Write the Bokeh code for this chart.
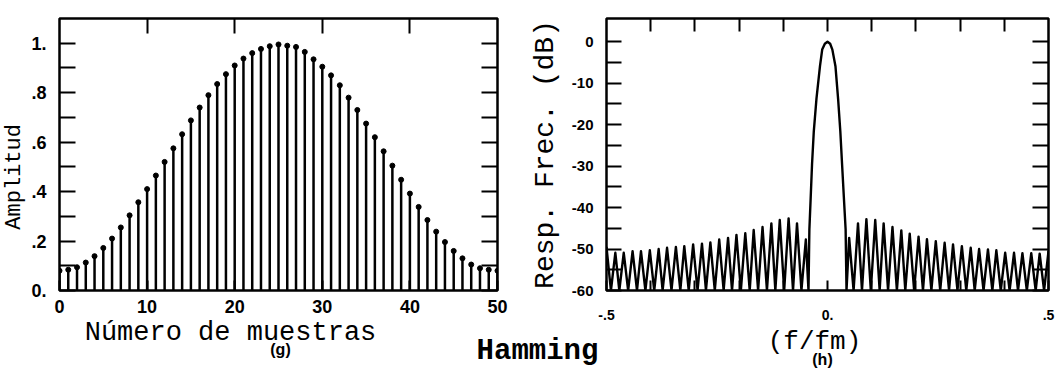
from bokeh.plotting import figure
from bokeh.models import Range1d, LinearAxis, FixedTicker, Label
from bokeh.layouts import row, column
from bokeh.embed import file_html
from bokeh.resources import INLINE

# ---------------- data: left panel (g) Hamming window, 51 samples ----------------
sample_n = list(range(51))
window_w = [
    0.080, 0.084, 0.094, 0.113, 0.139, 0.172, 0.210, 0.255, 0.304, 0.357,
    0.410, 0.465, 0.520, 0.575, 0.632, 0.688, 0.740, 0.790, 0.835, 0.875,
    0.910, 0.938, 0.960, 0.977, 0.988, 0.995, 0.990, 0.985, 0.965, 0.935,
    0.905, 0.870, 0.830, 0.780, 0.730, 0.675, 0.620, 0.563, 0.505, 0.448,
    0.392, 0.338, 0.285, 0.238, 0.196, 0.160, 0.130, 0.105, 0.090, 0.084, 0.080,
]

# ---------------- data: right panel (h) frequency response (dB) ----------------
FLOOR_DB = -60
main_f = [-0.043, -0.041, -0.038, -0.035, -0.031, -0.025, -0.017, -0.012, -0.006, 0.0,
          0.006, 0.011, 0.018, 0.024, 0.029, 0.033, 0.037, 0.041, 0.043]
main_db = [-60, -45.3, -37.5, -29.6, -21.6, -13.8, -5.9, -1.9, -0.5, 0.0,
           -0.5, -1.9, -5.9, -13.8, -21.6, -29.6, -37.5, -45.3, -60]
# side-lobe peak / null frequencies (|f|), from the main lobe outwards
lobe_peak_f = [0.049, 0.069, 0.088, 0.108, 0.127, 0.147, 0.167, 0.186, 0.206, 0.225,
               0.245, 0.265, 0.284, 0.304, 0.324, 0.343, 0.363, 0.382, 0.402, 0.422,
               0.441, 0.461, 0.480]
lobe_null_f = [0.059, 0.078, 0.098, 0.118, 0.137, 0.157, 0.176, 0.196, 0.216, 0.235,
               0.255, 0.275, 0.294, 0.314, 0.333, 0.353, 0.373, 0.392, 0.412, 0.431,
               0.451, 0.471, 0.490]
left_peak_db = [-47.7, -43.8, -42.6, -43.0, -43.8, -44.7, -45.4, -46.2, -46.6, -47.3,
                -47.7, -48.4, -48.7, -48.9, -49.3, -49.5, -49.7, -50.0, -50.3, -50.5,
                -50.5, -50.9, -50.9]
right_peak_db = [-47.3, -43.8, -42.8, -43.0, -43.8, -44.7, -45.5, -46.3, -47.0, -47.6,
                 -48.1, -48.5, -48.9, -49.3, -49.7, -50.0, -50.1, -50.3, -50.9, -50.9,
                 -51.0, -51.0, -51.1]
edge_f = [-0.5, 0.5]
edge_db = [-49.5, -50.5]

# ---------------- ticks / labels ----------------
amp_major = [0, 0.2, 0.4, 0.6, 0.8, 1.0]
amp_minor = [0.1, 0.3, 0.5, 0.7, 0.9]
amp_labels = ["0.", ".2", ".4", ".6", ".8", "1."]
n_ticks = [0, 10, 20, 30, 40, 50]
n_top_ticks = [10, 20, 30, 40]
db_major = [0, -10, -20, -30, -40, -50, -60]
db_minor = [-5, -15, -25, -35, -45, -55]
db_labels = ["0", "-10", "-20", "-30", "-40", "-50", "-60"]
f_major = [-0.5, 0.0, 0.5]
f_minor = [-0.4, -0.3, -0.2, -0.1, 0.1, 0.2, 0.3, 0.4]
f_labels = ["-.5", "0.", ".5"]

MONO = "Liberation Mono"
TICK_FONT = "Liberation Sans"
ROW_H = 335
STRIP_TOP = 300


def style_axis(ax, major, minor, tick_len, labels=None, font_size="18px", standoff=10):
    ax.ticker = FixedTicker(ticks=major, minor_ticks=minor)
    ax.axis_line_color = None
    ax.major_tick_in = tick_len
    ax.major_tick_out = 0
    ax.minor_tick_in = tick_len
    ax.minor_tick_out = 0
    ax.major_tick_line_width = 2
    ax.minor_tick_line_width = 2
    ax.major_tick_line_color = "black"
    ax.minor_tick_line_color = "black"
    if labels is None:
        ax.major_label_text_font_size = "1px"
        ax.major_label_text_color = None
        ax.major_label_standoff = 0
    else:
        ax.major_label_overrides = dict(zip(major, labels))
        ax.major_label_text_font = TICK_FONT
        ax.major_label_text_font_style = "bold"
        ax.major_label_text_font_size = font_size
        ax.major_label_text_color = "black"
        ax.major_label_standoff = standoff


def plain(p):
    p.grid.visible = False
    p.background_fill_color = "white"
    p.border_fill_color = "white"


# ---------------- y-label strip for (g) ----------------
p0 = figure(width=28, height=ROW_H, x_range=Range1d(0, 28), y_range=Range1d(ROW_H, 0),
            min_border=0, x_axis_location=None, y_axis_location=None,
            toolbar_location=None, output_backend="svg")
plain(p0)
p0.outline_line_color = None
p0.add_layout(Label(x=14, y=195, text="Amplitud", angle=1.5708,
                    text_align="center", text_baseline="middle",
                    text_font=MONO, text_font_size="22px", text_color="black"))

# ---------------- left figure (g) ----------------
p1 = figure(width=492, height=ROW_H, x_range=Range1d(0, 50), y_range=Range1d(0, 1.1),
            min_border_left=29, min_border_right=23, min_border_top=15,
            min_border_bottom=ROW_H - 290,
            toolbar_location=None, output_backend="svg")
plain(p1)
p1.outline_line_color = "black"
p1.outline_line_width = 2.5

style_axis(p1.xaxis[0], n_ticks, [], 10, [str(t) for t in n_ticks], "18px", 9)
style_axis(p1.yaxis[0], amp_major, amp_minor, 16, amp_labels, "18px", 13)
ax_top1 = LinearAxis()
style_axis(ax_top1, n_top_ticks, [], 15)
p1.add_layout(ax_top1, "above")
ax_right1 = LinearAxis()
style_axis(ax_right1, amp_major, amp_minor, 16)
p1.add_layout(ax_right1, "right")

p1.segment(x0=sample_n, y0=[0] * len(sample_n), x1=sample_n, y1=window_w,
           line_color="black", line_width=2.5)
p1.scatter(sample_n, window_w, size=5, marker="circle", color="black")

# ---------------- right figure (h) ----------------
spec_f = [edge_f[0]]
spec_db = [edge_db[0]]
for k in range(len(lobe_peak_f) - 1, -1, -1):
    spec_f += [-lobe_null_f[k], -lobe_peak_f[k]]
    spec_db += [FLOOR_DB, left_peak_db[k]]
spec_f += main_f
spec_db += main_db
for k in range(len(lobe_peak_f)):
    spec_f += [lobe_peak_f[k], lobe_null_f[k]]
    spec_db += [right_peak_db[k], FLOOR_DB]
spec_f.append(edge_f[1])
spec_db.append(edge_db[1])

p2 = figure(width=537, height=ROW_H, x_range=Range1d(-0.5, 0.5), y_range=Range1d(-60, 5.6),
            min_border_left=86, min_border_right=9, min_border_top=18,
            min_border_bottom=ROW_H - 295,
            toolbar_location=None, output_backend="svg")
plain(p2)
p2.outline_line_color = "black"
p2.outline_line_width = 2.5

style_axis(p2.xaxis[0], f_major, f_minor, 10, f_labels, "14px", 19)
style_axis(p2.yaxis[0], db_major, db_minor, 15, db_labels, "15px", 13)
p2.yaxis[0].axis_label = "Resp. Frec. (dB)"
p2.yaxis[0].axis_label_text_font = MONO
p2.yaxis[0].axis_label_text_font_style = "normal"
p2.yaxis[0].axis_label_text_font_size = "28px"
p2.yaxis[0].axis_label_text_color = "black"
p2.yaxis[0].axis_label_standoff = 8
ax_top2 = LinearAxis()
style_axis(ax_top2, f_minor + [0.0], [], 13)
p2.add_layout(ax_top2, "above")
ax_right2 = LinearAxis()
style_axis(ax_right2, db_major, db_minor, 16)
p2.add_layout(ax_right2, "right")

p2.line(spec_f, spec_db, line_color="black", line_width=2.4, line_join="round")

# ---------------- bottom strip with captions (transparent, overlapping the row) ----------------
p3 = figure(width=1057, height=383 - STRIP_TOP, x_range=Range1d(0, 1057),
            y_range=Range1d(383, STRIP_TOP),
            min_border=0, x_axis_location=None, y_axis_location=None,
            toolbar_location=None, output_backend="svg")
p3.grid.visible = False
p3.outline_line_color = None
p3.background_fill_color = None
p3.border_fill_color = None
p3.margin = (STRIP_TOP - ROW_H, 0, 0, 0)


def cap(x, y, text, size, bold=False, font=MONO):
    p3.add_layout(Label(x=x, y=y, text=text, text_align="center", text_baseline="middle",
                        text_font=font, text_font_size=size,
                        text_font_style="bold" if bold else "normal", text_color="black"))


cap(230, 332, "Número de muestras", "27px")
cap(280, 349, "(g)", "16px", bold=True, font="Liberation Sans")
cap(537, 351, "Hamming", "29px", bold=True)
cap(814, 341, "(f/fm)", "26px")
cap(822, 359, "(h)", "16px", bold=True, font="Liberation Sans")

layout = column(row(p0, p1, p2), p3)
open("out.html", "w").write(file_html(layout, INLINE))
